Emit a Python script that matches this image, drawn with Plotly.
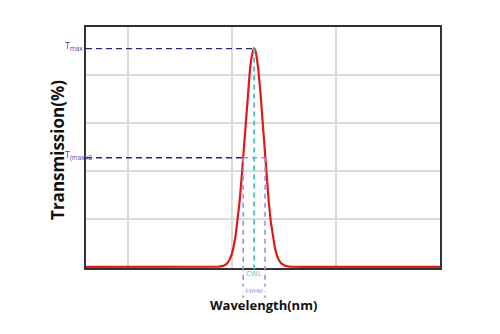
import plotly.graph_objects as go

# Band-pass filter transmission curve (wavelength in nm, transmission in %)
wavelength = [400, 520, 527.5, 531.5, 533.5, 535.5, 537.5, 539.5, 541.5, 543.5,
              545.5, 547.5, 549.5, 551.5, 553.5, 555.5, 557.5, 558.5, 559.5, 560.5,
              561.5, 562.5, 563.5, 564.5, 565.5, 567.5, 569.5, 571.5, 573.5, 575.5,
              577.5, 579.5, 581.5, 583.5, 585.5, 587.5, 589.5, 591.5, 595.5, 610, 740]
transmission = [0, 0, 0.1, 0.35, 0.7, 1.4, 2.6, 4.6, 7.7, 12.3,
                18.7, 27.1, 37.4, 49.0, 61.3, 72.9, 82.4, 86.1, 88.8, 90.4,
                91.0, 90.4, 88.8, 86.1, 82.4, 72.9, 61.3, 49.0, 37.4, 27.1,
                18.7, 12.3, 7.7, 4.6, 2.6, 1.4, 0.7, 0.35, 0.1, 0, 0]

t_max = 91.0
cwl = 561.5
fwhm_low = 551.0
fwhm_high = 572.0

x_range = [400, 740]
y_range = [-0.5, 100]
x_grid = [440, 540, 640, 740]
y_grid = [20, 40, 60, 80]

navy = "#26267f"
navy_text = "#4646a8"
cyan = "#4fc6c6"
purple = "#9a8cf2"


def to_paper(v):
    """Convert a transmission value to a paper y-coordinate."""
    return (v - y_range[0]) / (y_range[1] - y_range[0])


fig = go.Figure()

fig.add_trace(go.Scatter(
    x=wavelength, y=transmission, mode="lines",
    line=dict(color="#e01818", width=2.2),
    hoverinfo="skip", showlegend=False,
))

shapes = []
# T max guide
shapes.append(dict(type="line", xref="x", yref="y", x0=x_range[0], x1=cwl,
                   y0=t_max, y1=t_max, line=dict(color=navy, width=1.4, dash="6px,4px")))
# T max / 2 guide
shapes.append(dict(type="line", xref="x", yref="y", x0=x_range[0], x1=fwhm_low,
                   y0=t_max / 2, y1=t_max / 2, line=dict(color=navy, width=1.4, dash="6px,4px")))
shapes.append(dict(type="line", xref="x", yref="y", x0=fwhm_low, x1=fwhm_high,
                   y0=t_max / 2, y1=t_max / 2, line=dict(color=purple, width=1.4, dash="5px,4px")))
# centre wavelength
shapes.append(dict(type="line", xref="x", yref="paper", x0=cwl, x1=cwl,
                   y0=to_paper(t_max), y1=-0.005, line=dict(color=cyan, width=2, dash="5px,4px")))
# FWHM edges
for xv in (fwhm_low, fwhm_high):
    shapes.append(dict(type="line", xref="x", yref="paper", x0=xv, x1=xv,
                       y0=to_paper(t_max / 2), y1=-0.13,
                       line=dict(color=purple, width=1.6, dash="5px,4px")))

annotations = [
    dict(text="T<sub>max</sub>", xref="paper", yref="y", x=-0.065, y=t_max,
         xanchor="left", yanchor="middle", yshift=3, showarrow=False,
         font=dict(family="Open Sans", size=9, color=navy_text)),
    dict(text="T<sub>(max)/2</sub>", xref="paper", yref="y", x=-0.065, y=t_max / 2,
         xanchor="left", yanchor="middle", yshift=3, showarrow=False,
         font=dict(family="Open Sans", size=9, color=navy_text)),
    dict(text="CWL", xref="x", yref="paper", x=cwl, y=-0.022,
         xanchor="center", yanchor="middle", showarrow=False,
         font=dict(family="Open Sans", size=7.5, color=cyan)),
    dict(text="- FWHM -", xref="x", yref="paper", x=(fwhm_low + fwhm_high) / 2, y=-0.097,
         xanchor="center", yanchor="middle", showarrow=False, bgcolor="white",
         font=dict(family="Liberation Sans Narrow, Liberation Sans", size=5.5, color=purple)),
    dict(text="<b>Transmission(%)</b>", xref="paper", yref="paper", x=-0.079, y=0.49,
         xanchor="center", yanchor="middle", textangle=-90, showarrow=False,
         font=dict(family="Open Sans", size=17, color="#111111")),
    dict(text="<b>Wavelength(nm)</b>", xref="paper", yref="paper", x=0.5, y=-0.154,
         xanchor="center", yanchor="middle", showarrow=False,
         font=dict(family="Open Sans", size=13, color="#111111")),
]

fig.update_layout(
    width=500, height=334,
    margin=dict(l=86, r=60, t=27, b=66),
    paper_bgcolor="white", plot_bgcolor="white",
    shapes=shapes, annotations=annotations,
    showlegend=False,
)
fig.update_xaxes(range=x_range, tickvals=x_grid, showticklabels=False, ticks="",
                 showgrid=True, gridcolor="#dadada", gridwidth=1.5, zeroline=False,
                 showline=True, linecolor="#333333", linewidth=2, mirror=True,
                 layer="below traces")
fig.update_yaxes(range=y_range, tickvals=y_grid, showticklabels=False, ticks="",
                 showgrid=True, gridcolor="#dadada", gridwidth=1.5, zeroline=False,
                 showline=True, linecolor="#333333", linewidth=2, mirror=True,
                 layer="below traces")

fig.write_html("out.html")
